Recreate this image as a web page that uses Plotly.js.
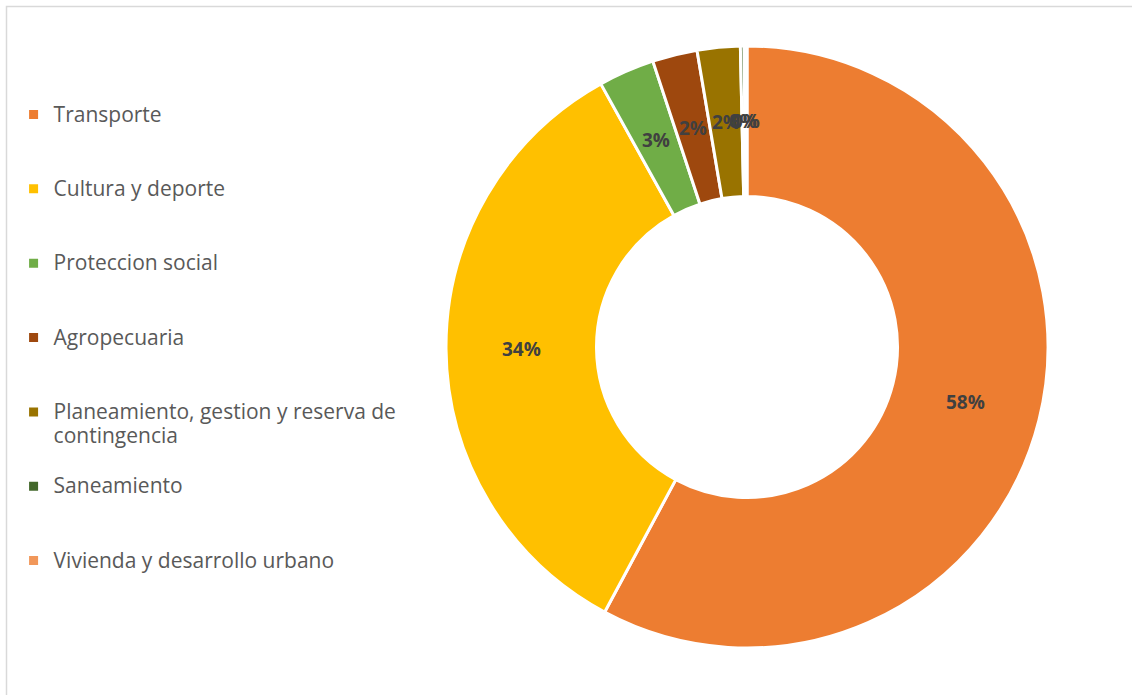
<!DOCTYPE html>
<html>
<head>
<meta charset="utf-8">
<script src="https://cdn.plot.ly/plotly-3.0.1.min.js"></script>
<style>
  html, body { margin: 0; padding: 0; background: #ffffff; }
  #chart { width: 1132px; height: 695px; }
</style>
</head>
<body>
<div id="chart"></div>
<script>
// Categories (legend order, clockwise from 12 o'clock)
const categories = [
  "Transporte",
  "Cultura y deporte",
  "Proteccion social",
  "Agropecuaria",
  "Planeamiento, gestion y reserva de contingencia",
  "Saneamiento",
  "Vivienda y desarrollo urbano"
];
// Share of total (percent)
const shares = [57.7, 34.0, 3.0, 2.4, 2.3, 0.2, 0.15];
const colors = ["#ED7D31", "#FFC000", "#70AD47", "#9E480E", "#997300", "#43682B", "#F1975A"];

const W = 1132, H = 695;
// Pie placement (layout)
const CX = 747, CY = 347, R = 301, HOLE = 0.5;

// Legend text: wrap long labels, draw them larger than the line-height font, and pad every
// entry to three lines so that the entries are spaced evenly as in the reference
const NB = "\u00a0";
function legendText(s) {
  let lines;
  if (s.length > 34) {
    const cut = s.lastIndexOf(" ", 34);
    lines = [s.slice(0, cut), s.slice(cut + 1)];
  } else {
    lines = [s];
  }
  lines = lines.map(l => '<span style="font-size:21px">' + l + '</span>');
  while (lines.length < 3) lines.push(NB);
  return lines.join("<br>");
}
const legendLabels = categories.map(legendText);

const trace = {
  type: "pie",
  labels: legendLabels,
  values: shares,
  hole: HOLE,
  sort: false,
  direction: "clockwise",
  rotation: 0,
  marker: { colors: colors, line: { color: "#ffffff", width: 3 } },
  textinfo: "none",
  hoverinfo: "percent",
  domain: { x: [(CX - R) / W, (CX + R) / W], y: [1 - (CY + R) / H, 1 - (CY - R) / H] }
};

// Percentage labels at each slice's middle angle, half-way across the ring
const total = shares.reduce((a, b) => a + b, 0);
const rMid = R * (1 + HOLE) / 2;
const annotations = [];
let cum = 0;
shares.forEach((v, i) => {
  const mid = (cum + v / 2) / total * 2 * Math.PI;
  cum += v;
  annotations.push({
    xref: "paper", yref: "paper",
    x: (CX + rMid * Math.sin(mid)) / W,
    y: 1 - (CY - rMid * Math.cos(mid)) / H,
    xanchor: "center", yanchor: "middle",
    text: Math.round(v / total * 100) + "%",
    showarrow: false,
    font: { family: "Open Sans, sans-serif", size: 19, color: "#404040", weight: "bold" }
  });
});

const layout = {
  width: W,
  height: H,
  margin: { l: 0, r: 0, t: 0, b: 0 },
  paper_bgcolor: "#ffffff",
  showlegend: true,
  legend: {
    x: 0.012,
    xanchor: "left",
    y: 1 - 96 / H,
    yanchor: "top",
    valign: "top",
    traceorder: "normal",
    font: { family: "Open Sans, sans-serif", size: 18.3, color: "#595959" },
    bgcolor: "rgba(0,0,0,0)"
  },
  annotations: annotations,
  shapes: [
    {
      type: "rect", xref: "paper", yref: "paper",
      x0: 6.5 / W, x1: 1.2, y0: -0.2, y1: 1 - 6.5 / H,
      line: { color: "#d9d9d9", width: 1.5 }, fillcolor: "rgba(0,0,0,0)", layer: "below"
    }
  ]
};

Plotly.newPlot("chart", [trace], layout, { displayModeBar: false, staticPlot: true });
</script>
</body>
</html>
